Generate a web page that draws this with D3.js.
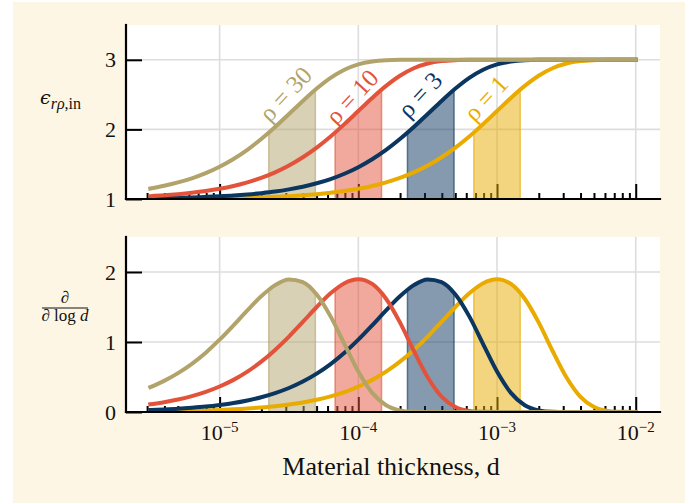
<!DOCTYPE html>
<html>
<head>
<meta charset="utf-8">
<script src="https://cdn.jsdelivr.net/npm/d3@7"></script>
<style>
  html, body { margin: 0; padding: 0; background: #ffffff; }
  svg { display: block; }
  text { font-family: "Liberation Serif", "DejaVu Serif", serif; fill: #111111; }
</style>
</head>
<body>
<svg id="chart" width="697" height="504"></svg>
<script>
// Material thickness grid, log10(d)
const logThickness = [-5.5,-5.4,-5.3,-5.2,-5.1,-5.0,-4.9,-4.8,-4.7,-4.6,-4.5,-4.4,-4.3,-4.2,-4.1,-4.0,-3.9,-3.8,
                      -3.7,-3.6,-3.5,-3.4,-3.3,-3.2,-3.1,-3.0,-2.9,-2.8,-2.7,-2.6,-2.5,-2.4,-2.3,-2.2,-2.1,-2.0];

const rhoValues = [1, 3, 10, 30];
const rhoLabels = ["ρ = 1", "ρ = 3", "ρ = 10", "ρ = 30"];
const rhoColors = ["#e9ab00", "#0b365f", "#e3533b", "#b2a36b"];

// Effective in-plane permittivity for each rho
const epsRho1  = [1.003,1.004,1.005,1.007,1.009,1.012,1.015,1.019,1.025,1.032,1.041,1.053,1.069,1.089,1.114,1.146,1.187,1.239,
                  1.303,1.383,1.481,1.600,1.739,1.899,2.076,2.264,2.452,2.625,2.771,2.879,2.947,2.982,2.995,2.999,3.000,3.000];
const epsRho3  = [1.011,1.014,1.018,1.023,1.030,1.039,1.050,1.065,1.084,1.107,1.138,1.177,1.226,1.287,1.363,1.457,1.571,1.705,
                  1.861,2.034,2.221,2.409,2.587,2.741,2.858,2.935,2.976,2.994,2.999,3.000,3.000,3.000,3.000,3.000,3.000,3.000];
const epsRho10 = [1.041,1.053,1.069,1.089,1.114,1.146,1.187,1.239,1.303,1.383,1.481,1.600,1.739,1.899,2.076,2.264,2.452,2.625,
                  2.771,2.879,2.947,2.982,2.995,2.999,3.000,3.000,3.000,3.000,3.000,3.000,3.000,3.000,3.000,3.000,3.000,3.000];
const epsRho30 = [1.150,1.190,1.238,1.297,1.371,1.463,1.575,1.707,1.861,2.034,2.221,2.409,2.587,2.741,2.858,2.935,2.976,2.994,
                  2.999,3.000,3.000,3.000,3.000,3.000,3.000,3.000,3.000,3.000,3.000,3.000,3.000,3.000,3.000,3.000,3.000,3.000];

// Derivative with respect to log10(d)
const derRho1  = [0.008,0.011,0.014,0.018,0.023,0.030,0.038,0.049,0.064,0.082,0.106,0.136,0.174,0.223,0.285,0.363,0.459,0.577,
                  0.719,0.887,1.078,1.287,1.500,1.695,1.840,1.897,1.829,1.618,1.280,0.875,0.496,0.220,0.072,0.016,0.002,0.000];
const derRho3  = [0.028,0.036,0.046,0.060,0.077,0.100,0.128,0.165,0.211,0.270,0.343,0.435,0.548,0.684,0.846,1.033,1.238,1.452,
                  1.653,1.813,1.894,1.857,1.679,1.366,0.969,0.577,0.273,0.096,0.023,0.003,0.000,0.000,0.000,0.000,0.000,0.000];
const derRho10 = [0.110,0.140,0.178,0.226,0.287,0.364,0.459,0.577,0.719,0.887,1.078,1.287,1.500,1.695,1.840,1.897,1.829,1.618,
                  1.280,0.875,0.496,0.220,0.072,0.016,0.002,0.000,0.000,0.000,0.000,0.000,0.000,0.000,0.000,0.000,0.000,0.000];
const derRho30 = [0.355,0.445,0.555,0.688,0.848,1.033,1.238,1.452,1.653,1.813,1.894,1.857,1.679,1.366,0.969,0.577,0.273,0.096,
                  0.023,0.003,0.000,0.000,0.000,0.000,0.000,0.000,0.000,0.000,0.000,0.000,0.000,0.000,0.000,0.000,0.000,0.000];

// Shaded thickness window for each rho
const bandLow  = [6.8e-4, 2.26e-4, 6.8e-5, 2.26e-5];
const bandHigh = [1.47e-3, 4.9e-4, 1.47e-4, 4.9e-5];

// Curve label anchors (thickness, permittivity)
const labelThickness = [8.3e-4, 2.78e-4, 9.0e-5, 2.98e-5];
const labelEps = [2.45, 2.50, 2.47, 2.51];

const decades = [1e-5, 1e-4, 1e-3, 1e-2];
const decadeExponents = ["−5", "−4", "−3", "−2"];
const epsTicks = [1, 2, 3];
const derTicks = [0, 1, 2];

// ---------------------------------------------------------------
const svg = d3.select("#chart");
const defs = svg.append("defs");

svg.append("rect")
  .attr("x", 13).attr("y", 2).attr("width", 672).attr("height", 501)
  .attr("fill", "#fdf6e4");

const left = 126, right = 660;
const x = d3.scaleLog()
  .domain([Math.pow(10, -5.675), Math.pow(10, -1.825)])
  .range([left, right]);

const minorTicks = x.ticks().filter(t => {
  const e = Math.log10(t);
  return Math.abs(e - Math.round(e)) > 1e-9;
});

const thickness = logThickness.map(v => Math.pow(10, v));

const panels = [
  { top: 25,  bottom: 199, domain: [1, 3.5], ticks: epsTicks, base: 1,
    series: [epsRho1, epsRho3, epsRho10, epsRho30] },
  { top: 237, bottom: 412, domain: [0, 2.5], ticks: derTicks, base: 0,
    series: [derRho1, derRho3, derRho10, derRho30] }
];

panels.forEach((p, pi) => {
  const y = d3.scaleLinear().domain(p.domain).range([p.bottom, p.top]);
  p.y = y;
  const g = svg.append("g");

  g.append("rect")
    .attr("x", left).attr("y", p.top)
    .attr("width", right - left).attr("height", p.bottom - p.top)
    .attr("fill", "#ffffff");

  const clipId = "panel-clip-" + pi;
  defs.append("clipPath").attr("id", clipId).append("rect")
    .attr("x", left).attr("y", p.top)
    .attr("width", right - left).attr("height", p.bottom - p.top);

  // grid
  g.append("g").selectAll("line").data(decades).join("line")
    .attr("x1", d => x(d)).attr("x2", d => x(d))
    .attr("y1", p.top).attr("y2", p.bottom)
    .attr("stroke", "#dddddd").attr("stroke-width", 1.6);
  g.append("g").selectAll("line").data(p.ticks).join("line")
    .attr("x1", left).attr("x2", right)
    .attr("y1", d => y(d)).attr("y2", d => y(d))
    .attr("stroke", "#dddddd").attr("stroke-width", 1.6);

  // x ticks, pointing into the panel
  const xMajor = g.append("g").attr("transform", `translate(0,${p.bottom})`)
    .call(d3.axisBottom(x).tickValues(decades).tickSize(-15).tickFormat(""));
  const xMinor = g.append("g").attr("transform", `translate(0,${p.bottom})`)
    .call(d3.axisBottom(x).tickValues(minorTicks).tickSize(-6).tickFormat(""));
  [xMajor, xMinor].forEach(a => {
    a.select(".domain").remove();
    a.selectAll("line").attr("stroke", "#000").attr("stroke-width", 2);
  });

  // y ticks and labels
  const yAxis = g.append("g").attr("transform", `translate(${left},0)`)
    .call(d3.axisLeft(y).tickValues(p.ticks).tickSize(-16).tickPadding(10).tickFormat(d3.format("d")));
  yAxis.select(".domain").remove();
  yAxis.selectAll("line").attr("stroke", "#000").attr("stroke-width", 2);
  yAxis.selectAll("text")
    .attr("font-size", 22)
    .attr("font-family", '"Liberation Serif", "DejaVu Serif", serif')
    .attr("fill", "#111");

  const pts = p.series.map(vals => vals.map((v, k) => [thickness[k], v]));
  const line = d3.line().x(d => x(d[0])).y(d => y(d[1])).curve(d3.curveMonotoneX);
  const area = d3.area().x(d => x(d[0])).y0(y(p.base)).y1(d => y(d[1])).curve(d3.curveMonotoneX);

  // shaded windows under each curve
  pts.forEach((sp, si) => {
    const bandId = `band-clip-${pi}-${si}`;
    defs.append("clipPath").attr("id", bandId).append("path").attr("d", area(sp));
    g.append("rect")
      .attr("x", x(bandLow[si])).attr("width", x(bandHigh[si]) - x(bandLow[si]))
      .attr("y", p.top).attr("height", p.bottom - p.top)
      .attr("fill", rhoColors[si]).attr("fill-opacity", 0.5)
      .attr("stroke", rhoColors[si]).attr("stroke-opacity", 0.6).attr("stroke-width", 1.5)
      .attr("clip-path", `url(#${bandId})`);
  });

  // curves
  const curves = g.append("g").attr("clip-path", `url(#${clipId})`);
  pts.forEach((sp, si) => {
    curves.append("path")
      .attr("d", line(sp))
      .attr("fill", "none")
      .attr("stroke", rhoColors[si])
      .attr("stroke-width", 4)
      .attr("stroke-linecap", "square");
  });

  // spines
  g.append("line").attr("x1", left).attr("x2", left).attr("y1", p.top).attr("y2", p.bottom)
    .attr("stroke", "#000").attr("stroke-width", 2.2).attr("stroke-linecap", "square");
  g.append("line").attr("x1", left).attr("x2", right).attr("y1", p.bottom).attr("y2", p.bottom)
    .attr("stroke", "#000").attr("stroke-width", 2.2).attr("stroke-linecap", "square");
});

// rho labels along the permittivity curves
const topY = panels[0].y;
svg.append("g").selectAll("text").data(rhoLabels).join("text")
  .attr("x", (d, i) => x(labelThickness[i]))
  .attr("y", (d, i) => topY(labelEps[i]))
  .attr("transform", (d, i) => `rotate(-47,${x(labelThickness[i])},${topY(labelEps[i])})`)
  .attr("text-anchor", "middle")
  .attr("dominant-baseline", "central")
  .attr("font-size", 25)
  .style("fill", (d, i) => rhoColors[i])
  .text(d => d);

// decade labels under the lower panel
const xl = svg.append("g").selectAll("text").data(decades).join("text")
  .attr("x", d => x(d)).attr("y", 440)
  .attr("text-anchor", "middle")
  .attr("font-size", 22);
xl.append("tspan").text("10");
xl.append("tspan").attr("dy", -8).attr("font-size", 15).text((d, i) => decadeExponents[i]);

svg.append("text")
  .attr("x", (left + right) / 2 - 2).attr("y", 475)
  .attr("text-anchor", "middle")
  .attr("font-size", 26)
  .text("Material thickness, d");

// y labels
const yl1 = svg.append("text").attr("x", 40).attr("y", 104).attr("font-size", 22);
yl1.append("tspan").attr("font-style", "italic").attr("font-family", '"DejaVu Serif", serif').attr("font-size", 19).text("ϵ");
yl1.append("tspan").attr("font-style", "italic").attr("font-size", 16).attr("dy", 5).text("rρ");
yl1.append("tspan").attr("font-size", 16).text(",in");

svg.append("text").attr("x", 65).attr("y", 303).attr("text-anchor", "middle")
  .attr("font-size", 17).attr("font-style", "italic").text("∂");
svg.append("line").attr("x1", 42).attr("x2", 88).attr("y1", 308).attr("y2", 308)
  .attr("stroke", "#111").attr("stroke-width", 1);
const den = svg.append("text").attr("x", 65).attr("y", 321).attr("text-anchor", "middle").attr("font-size", 17);
den.append("tspan").attr("font-style", "italic").text("∂");
den.append("tspan").text(" log ");
den.append("tspan").attr("font-style", "italic").text("d");
</script>
</body>
</html>
